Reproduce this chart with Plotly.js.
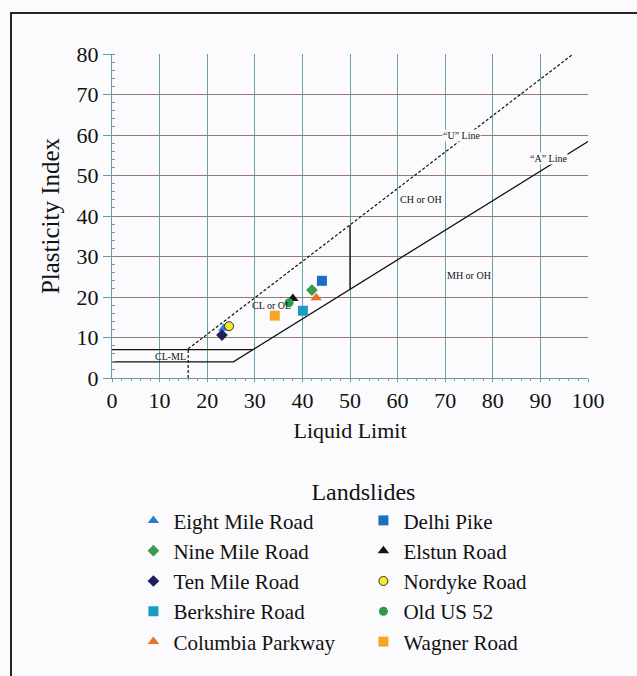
<!DOCTYPE html>
<html>
<head>
<meta charset="utf-8">
<script src="https://cdn.plot.ly/plotly-3.0.1.min.js"></script>
<style>
  html, body { margin: 0; padding: 0; background: #fbfbfd; }
  #frame { position: absolute; left: 10px; top: 12px; width: 700px; height: 700px;
           border-left: 2px solid #2a2420; border-top: 2px solid #2a2420; pointer-events: none; }
  #chart { position: absolute; left: 0; top: 0; width: 637px; height: 676px; }
</style>
</head>
<body>
<div id="chart"></div>
<div id="frame"></div>
<script>
// ---- data ----
const seriesNames = ["Eight Mile Road", "Delhi Pike", "Nine Mile Road", "Elstun Road",
  "Ten Mile Road", "Nordyke Road", "Berkshire Road", "Old US 52", "Columbia Parkway", "Wagner Road"];
const liquidLimit = [23.5, 44.1, 42.0, 38.0, 23.1, 24.6, 40.1, 37.2, 42.9, 34.2];
const plasticityIndex = [12.3, 24.0, 21.7, 19.6, 10.6, 12.8, 16.6, 18.6, 19.8, 15.4];
const seriesSymbols = ["triangle-up", "square", "diamond", "triangle-up", "diamond",
  "circle", "square", "circle", "triangle-up", "square"];
const seriesColors = ["#2a7fd4", "#1a6fc2", "#3b9a4a", "#111111", "#1c1f5a",
  "#f4ea2a", "#1b9ac2", "#2e9a4c", "#e8722c", "#f6a623"];

// chart reference lines
const aLineX = [0, 25.5, 100];
const aLineY = [4, 4, 58.4];
const clmlTopX = [0, 29.6];
const clmlTopY = [7, 7];
const uLineX = [16, 96.9];
const uLineY = [7.2, 80];
const uVertX = [16, 16];
const uVertY = [0, 7.2];
const ll50X = [50, 50];
const ll50Y = [21.9, 37.8];

const zoneLabels = ["\u201cU\u201d Line", "\u201cA\u201d Line", "CH or OH", "MH or OH", "CL or OL", "CL-ML"];
const zoneLabelX = [73.5, 91.8, 65, 75, 33.6, 12.3];
const zoneLabelY = [60, 54.3, 44, 25.4, 17.9, 5.4];

// ---- traces ----
const lineStyle = {color: "#111", width: 1.3};
const traces = [];
function refLine(x, y, dash) {
  traces.push({x: x, y: y, mode: "lines", showlegend: false, hoverinfo: "skip",
    line: Object.assign({}, lineStyle, dash ? {dash: dash, width: 1.2} : {})});
}
refLine(aLineX, aLineY);
refLine(clmlTopX, clmlTopY);
refLine(uLineX, uLineY, "3px,2px");
refLine(uVertX, uVertY, "3px,2px");
refLine(ll50X, ll50Y);

const sizes = {"triangle-up": 10, "square": 10, "diamond": 9, "circle": 9};
seriesNames.forEach((n, i) => {
  traces.push({
    x: [liquidLimit[i]], y: [plasticityIndex[i]], name: n, mode: "markers", type: "scatter",
    marker: {symbol: seriesSymbols[i], color: seriesColors[i], size: sizes[seriesSymbols[i]],
      line: {color: i === 5 ? "#333" : seriesColors[i], width: i === 5 ? 1 : 0}}
  });
});

const serif = "Liberation Serif, Times New Roman, serif";
const annotations = zoneLabels.map((t, i) => ({
  x: zoneLabelX[i], y: zoneLabelY[i], text: t, showarrow: false,
  font: {family: serif, size: 10, color: "#111"},
  bgcolor: (i < 2) ? "#fbfbfd" : "rgba(0,0,0,0)", borderpad: 0
}));

const layout = {
  width: 637, height: 676,
  paper_bgcolor: "#fbfbfd", plot_bgcolor: "#fbfbfd",
  margin: {l: 112, r: 49, t: 54, b: 298, autoexpand: false},
  font: {family: serif, color: "#111"},
  xaxis: {
    range: [0, 100], dtick: 10, tick0: 0, showgrid: true, gridcolor: "#6b9ea8", gridwidth: 1,
    zeroline: false, showline: true, linecolor: "#6a9aa3", mirror: false,
    ticks: "outside", ticklen: 3, tickcolor: "#6a9aa3",
    minor: {dtick: 2, ticks: "outside", ticklen: 2, tickcolor: "#8aaab0", showgrid: false},
    tickfont: {size: 22, family: serif, color: "#111"},
    title: {text: "Liquid Limit", font: {size: 22, family: serif, color: "#111"}, standoff: 10}
  },
  yaxis: {
    range: [0, 80], dtick: 10, tick0: 0, showgrid: true, gridcolor: "#957a72", gridwidth: 1,
    zeroline: false, showline: true, linecolor: "#6a9aa3",
    ticks: "outside", ticklen: 8, tickcolor: "#6a9aa3",
    minor: {dtick: 2, ticks: "inside", ticklen: 3, tickcolor: "#6a9aa3", showgrid: false},
    tickfont: {size: 22, family: serif, color: "#111"},
    title: {text: "Plasticity Index", font: {size: 25, family: serif, color: "#111"}, standoff: 9}
  },
  showlegend: true,
  legend: {
    orientation: "h", x: 0.045, xanchor: "left", y: -0.281, yanchor: "top",
    entrywidth: 185, bgcolor: "rgba(0,0,0,0)",
    font: {size: 21, family: serif, color: "#111"},
    title: {text: "Landslides", side: "top center", font: {size: 24, family: serif, color: "#111"}},
    itemsizing: "trace", tracegroupgap: 0
  },
  annotations: annotations
};

Plotly.newPlot("chart", traces, layout, {displayModeBar: false, staticPlot: true});
</script>
</body>
</html>
